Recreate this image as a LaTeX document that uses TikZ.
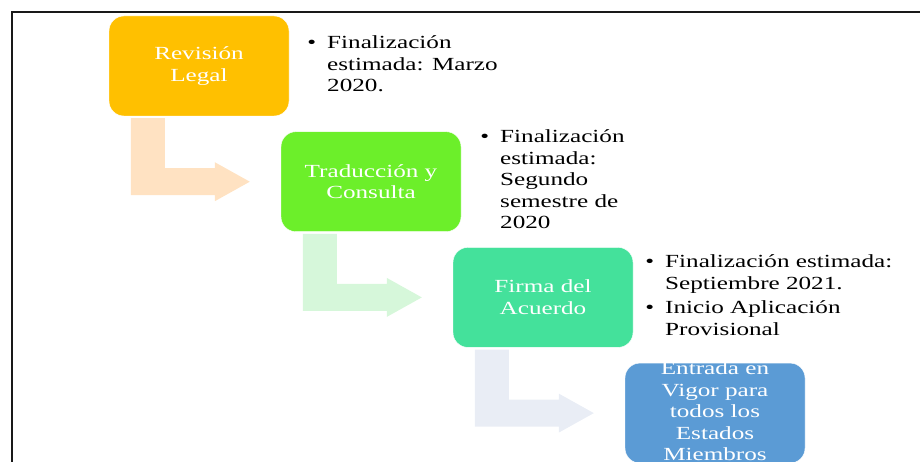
\documentclass[tikz,border=0pt]{standalone}
\usepackage{fontspec}
\setmainfont{Liberation Serif}[FakeStretch=1.36]
\usetikzlibrary{positioning,calc}

\definecolor{revcolor}{HTML}{FFC000}
\definecolor{tracolor}{HTML}{6CEF2A}
\definecolor{fircolor}{HTML}{44E19B}
\definecolor{vigcolor}{HTML}{5B9BD5}
\definecolor{revarrow}{HTML}{FFE2C2}
\definecolor{traarrow}{HTML}{D6F7DA}
\definecolor{firarrow}{HTML}{E9EDF5}

% bent arrow from below #1 to the left of #2
\newcommand\bentarrow[3]{%
  \fill[#3] ($(#1.south west)+(22,2)$) -- ($(#1.south west)+(56,2)$)
  |- ($(#2.west)+(-66,-13.5)$) -- ++(0,-6) -- ($(#2.west)+(-31,0)$)
  -- ++(-35,19.5) -- ++(0,-6) -| ($(#1.south west)+(22,2)$) -- cycle;}

\begin{document}
\begin{tikzpicture}[x=1pt, y=-1pt,
  stage/.style={draw=white, rounded corners=15pt, minimum width=180pt,
    minimum height=100pt, inner sep=0pt, align=center, text=white,
    font=\fontsize{18.5}{21.5}\selectfont},
  notes/.style={inner sep=0pt, text=black,
    font=\fontsize{18.5}{21.5}\selectfont}]

  \newcommand\DX{172}
  \newcommand\DY{115.7}

  \useasboundingbox (0,0) rectangle (920,462);
  \draw[line width=2pt, black!90] (12,462) -- (12,12) -- (920,12);

  \node[stage, fill=revcolor] (rev) at (199+0*\DX, 66+0*\DY) {Revisión\\Legal};
  \node[stage, fill=tracolor] (tra) at (199+1*\DX, 66+1*\DY) {Traducción y\\Consulta};
  \node[stage, fill=fircolor] (fir) at (199+2*\DX, 66+2*\DY) {Firma del\\Acuerdo};
  \node[stage, fill=vigcolor] (vig) at (199+3*\DX, 66+3*\DY)
    {\raisebox{-4.6pt}[0pt][0pt]{\begin{tabular}{@{}c@{}}Entrada en\\Vigor para\\
      todos los\\Estados\\Miembros\end{tabular}}};

  \bentarrow{rev}{tra}{revarrow}
  \bentarrow{tra}{fir}{traarrow}
  \bentarrow{fir}{vig}{firarrow}

  \node[notes, right=18pt of rev] (revnotes)
    {\begin{tabular}{@{}l@{\hspace{11pt}}l@{}}
      \textbullet & Finalización\\ & estimada: Marzo\\ & 2020.
    \end{tabular}};
  \node[notes, right=19pt of tra] (tranotes)
    {\begin{tabular}{@{}l@{\hspace{11pt}}l@{}}
      \textbullet & Finalización\\ & estimada:\\ & Segundo\\ & semestre de\\ & 2020
    \end{tabular}};
  \node[notes, right=12pt of fir] (firnotes)
    {\begin{tabular}{@{}l@{\hspace{11pt}}l@{}}
      \textbullet & Finalización estimada:\\ & Septiembre 2021.\\[3pt]
      \textbullet & Inicio Aplicación\\ & Provisional
    \end{tabular}};

\end{tikzpicture}
\end{document}
